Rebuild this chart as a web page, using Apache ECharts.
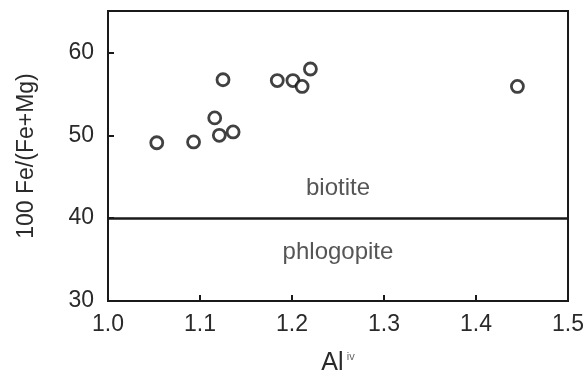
<!DOCTYPE html>
<html>
<head>
<meta charset="utf-8">
<script src="https://cdn.jsdelivr.net/npm/echarts@6/dist/echarts.min.js"></script>
</head>
<body style="margin:0;background:#fff">
<div id="chart" style="width:587px;height:381px"></div>
<script type="text/javascript">
// Al(iv) vs 100 Fe/(Fe+Mg)
var alIV = [1.053, 1.093, 1.116, 1.121, 1.136, 1.125, 1.184, 1.201, 1.211, 1.220, 1.445];
var feRatio = [49.1, 49.2, 52.1, 50.0, 50.4, 56.7, 56.6, 56.6, 55.9, 58.0, 55.9];
var fieldNames = ['biotite', 'phlogopite'];
var fieldPos = [[1.25, 43.6], [1.25, 35.9]];
var boundary = 40;
var xTicks = ['1.0', '1.1', '1.2', '1.3', '1.4', '1.5'];
var yTicks = [30, 40, 50, 60];

var points = alIV.map(function (x, i) { return [x, feRatio[i]]; });
var fields = fieldPos.map(function (p, i) { return { value: p, name: fieldNames[i] }; });

var myChart = echarts.init(document.getElementById('chart'));
var option = {
    backgroundColor: '#fff',
    animation: false,
    grid: {
        left: 108, right: 14, top: 11, bottom: 80,
        show: true, borderColor: '#1a1a1a', borderWidth: 2
    },
    xAxis: {
        type: 'value',
        min: 1.0, max: 1.5, interval: 0.1,
        name: '{a|Al} {s|iv}',
        nameLocation: 'middle',
        nameGap: 50,
        nameTextStyle: {
            rich: {
                a: { fontFamily: 'Liberation Sans', fontSize: 25, color: '#2a2a2a' },
                s: { fontFamily: 'Liberation Sans', fontSize: 11, color: '#666', verticalAlign: 'top', padding: [0, 0, 14, 0] }
            }
        },
        axisLine: { lineStyle: { color: '#1a1a1a', width: 2 } },
        axisTick: { inside: true, length: 6, lineStyle: { color: '#1a1a1a', width: 2 } },
        splitLine: { show: false },
        axisLabel: {
            margin: 12,
            fontFamily: 'Liberation Sans', fontSize: 23, color: '#2a2a2a',
            formatter: function (v) { return xTicks[Math.round((v - 1.0) * 10)]; }
        }
    },
    yAxis: {
        type: 'value',
        min: 30, max: 65, interval: 10,
        name: '100 Fe/(Fe+Mg)',
        nameLocation: 'middle',
        nameGap: 70,
        nameTextStyle: { fontFamily: 'Liberation Sans', fontSize: 23, color: '#2a2a2a' },
        axisLine: { lineStyle: { color: '#1a1a1a', width: 2 } },
        axisTick: { inside: true, length: 6, lineStyle: { color: '#1a1a1a', width: 2 } },
        splitLine: { show: false },
        axisLabel: {
            margin: 14,
            fontFamily: 'Liberation Sans', fontSize: 23, color: '#2a2a2a',
            formatter: function (v) { return yTicks.indexOf(v) >= 0 ? String(v) : ''; }
        }
    },
    series: [
        {
            type: 'scatter',
            data: points,
            symbol: 'circle',
            symbolSize: 12,
            itemStyle: { color: '#fff', borderColor: '#111', borderWidth: 2.8 },
            markLine: {
                silent: true,
                symbol: 'none',
                label: { show: false },
                lineStyle: { color: '#1a1a1a', width: 2.5, type: 'solid' },
                data: [{ yAxis: boundary }]
            }
        },
        {
            type: 'scatter',
            data: fields,
            symbolSize: 0,
            label: {
                show: true,
                position: 'inside',
                formatter: '{b}',
                fontFamily: 'Liberation Sans', fontSize: 24, color: '#2a2a2a'
            }
        }
    ]
};
myChart.setOption(option);
</script>
</body>
</html>
